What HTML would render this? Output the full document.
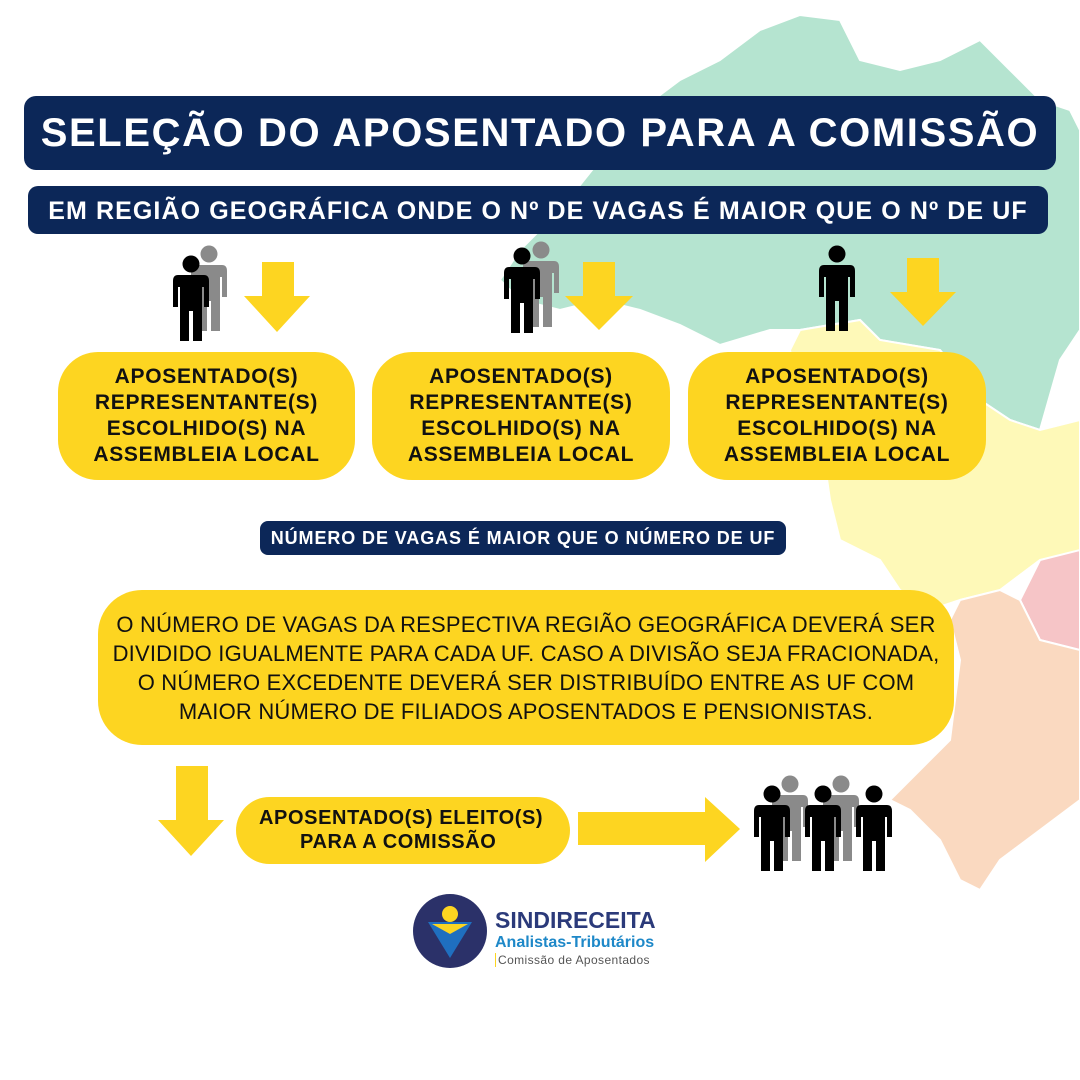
<!DOCTYPE html>
<html><head><meta charset="utf-8"><style>
body{margin:0;width:1080px;height:1080px;position:relative;background:#fff;font-family:"Liberation Sans",sans-serif;overflow:hidden}
.a{position:absolute}
.navy{background:#0c2758;color:#fff;font-weight:bold;text-align:center}
.pill{position:absolute;background:#fdd521;border-radius:40px;display:flex;align-items:center;justify-content:center;text-align:center;font-weight:bold;color:#111}
</style></head><body>
<svg class="a" style="left:0;top:0" width="1080" height="1080">
<defs>
<g id="p"><circle cx="19" cy="9" r="8.5"/><path d="M6 20 H32 Q37 20 37 26 V52 H32 V32 H30 V86 H21 V56 H17 V86 H8 V32 H6 V52 H1 V26 Q1 20 6 20Z"/></g>
</defs>
<polygon fill="#b5e4d0" stroke="#fff" stroke-width="2" points="720,60 760,30 800,15 840,20 860,60 900,70 940,60 980,40 1010,70 1040,100 1070,110 1080,130 1080,330 1060,360 1040,430 1010,420 980,400 940,350 880,340 860,320 800,330 770,330 720,345 680,325 640,310 600,300 560,310 520,300 500,280 520,250 560,210 600,160 640,110 680,80"/>
<polygon fill="#fef9b8" stroke="#fff" stroke-width="2" points="800,330 860,320 880,340 940,350 980,400 1010,420 1040,430 1080,420 1080,560 1040,560 1000,590 960,600 930,610 900,590 880,560 840,540 830,500 820,430 800,400 790,350"/>
<polygon fill="#f6c5c7" stroke="#fff" stroke-width="2" points="1040,560 1080,550 1080,650 1040,640 1020,600"/>
<polygon fill="#fad9c0" stroke="#fff" stroke-width="2" points="960,600 1000,590 1020,600 1040,640 1080,650 1080,800 1040,830 1000,860 980,890 960,880 940,840 910,810 890,800 920,770 950,740 960,660 950,620"/>
<g fill="#fdd521">
<polygon points="262,262 294,262 294,296 310,296 277,332 244,296 262,296"/>
<polygon points="583,262 615,262 615,296 633,296 599,330 565,296 583,296"/>
<polygon points="907,258 939,258 939,292 956,292 923,326 890,292 907,292"/>
<polygon points="176,766 208,766 208,820 224,820 191,856 158,820 176,820"/>
<polygon points="578,812 705,812 705,797 740,829 705,862 705,845 578,845"/>
</g>
<use href="#p" x="190" y="245" fill="#8a8a8a"/><use href="#p" x="172" y="255" fill="#000"/>
<use href="#p" x="522" y="241" fill="#8a8a8a"/><use href="#p" x="503" y="247" fill="#000"/>
<use href="#p" x="818" y="245" fill="#000"/>
<use href="#p" x="771" y="775" fill="#8a8a8a"/><use href="#p" x="753" y="785" fill="#000"/>
<use href="#p" x="822" y="775" fill="#8a8a8a"/><use href="#p" x="804" y="785" fill="#000"/>
<use href="#p" x="855" y="785" fill="#000"/>
<circle cx="450" cy="931" r="37" fill="#2b3169"/>
<circle cx="450" cy="914" r="8" fill="#fdd521"/>
<polygon points="428,922 472,922 450,958" fill="#1f6fc0"/>
<polygon points="432,924 468,924 450,934" fill="#fdd521"/>
</svg>
<div class="a navy" style="left:24px;top:96px;width:1032px;height:74px;border-radius:12px;font-size:40px;line-height:74px;letter-spacing:1.6px">SELEÇÃO DO APOSENTADO PARA A COMISSÃO</div>
<div class="a navy" style="left:28px;top:186px;width:1020px;height:48px;border-radius:10px;font-size:25px;line-height:50px;letter-spacing:1.1px">EM REGIÃO GEOGRÁFICA ONDE O Nº DE VAGAS É MAIOR QUE O Nº DE UF</div>
<div class="pill" style="left:58px;top:352px;width:297px;height:128px;font-size:21px;line-height:26px;letter-spacing:0.7px">APOSENTADO(S)<br>REPRESENTANTE(S)<br>ESCOLHIDO(S) NA<br>ASSEMBLEIA LOCAL</div>
<div class="pill" style="left:372px;top:352px;width:298px;height:128px;font-size:21px;line-height:26px;letter-spacing:0.7px">APOSENTADO(S)<br>REPRESENTANTE(S)<br>ESCOLHIDO(S) NA<br>ASSEMBLEIA LOCAL</div>
<div class="pill" style="left:688px;top:352px;width:298px;height:128px;font-size:21px;line-height:26px;letter-spacing:0.7px">APOSENTADO(S)<br>REPRESENTANTE(S)<br>ESCOLHIDO(S) NA<br>ASSEMBLEIA LOCAL</div>
<div class="a navy" style="left:260px;top:521px;width:526px;height:34px;border-radius:8px;font-size:18px;line-height:34px;letter-spacing:0.9px">NÚMERO DE VAGAS É MAIOR QUE O NÚMERO DE UF</div>
<div class="pill" style="left:98px;top:590px;width:856px;height:155px;font-weight:normal;font-size:22px;line-height:29px;border-radius:44px;letter-spacing:0.2px">O NÚMERO DE VAGAS DA RESPECTIVA REGIÃO GEOGRÁFICA DEVERÁ SER<br>DIVIDIDO IGUALMENTE PARA CADA UF. CASO A DIVISÃO SEJA FRACIONADA,<br>O NÚMERO EXCEDENTE DEVERÁ SER DISTRIBUÍDO ENTRE AS UF COM<br>MAIOR NÚMERO DE FILIADOS APOSENTADOS E PENSIONISTAS.</div>
<div class="a" style="left:236px;top:797px;width:334px;height:67px;border-radius:34px;background:#fdd521"></div>
<div class="a" style="left:259px;top:806px;font-size:20px;line-height:24px;font-weight:bold;color:#111;letter-spacing:0.6px">APOSENTADO(S) ELEITO(S)<br><span style="padding-left:41px">PARA A COMISSÃO</span></div>
<div class="a" style="left:495px;top:907px;font-size:23px;font-weight:bold;color:#2b3a7a">SINDIRECEITA</div>
<div class="a" style="left:495px;top:934px;font-size:16px;font-weight:bold;color:#1e88c8">Analistas-Tributários</div>
<div class="a" style="left:495px;top:953px;font-size:12px;color:#555;border-left:1px solid #fdd521;padding-left:2px;letter-spacing:0.4px">Comissão de Aposentados</div>
</body></html>
